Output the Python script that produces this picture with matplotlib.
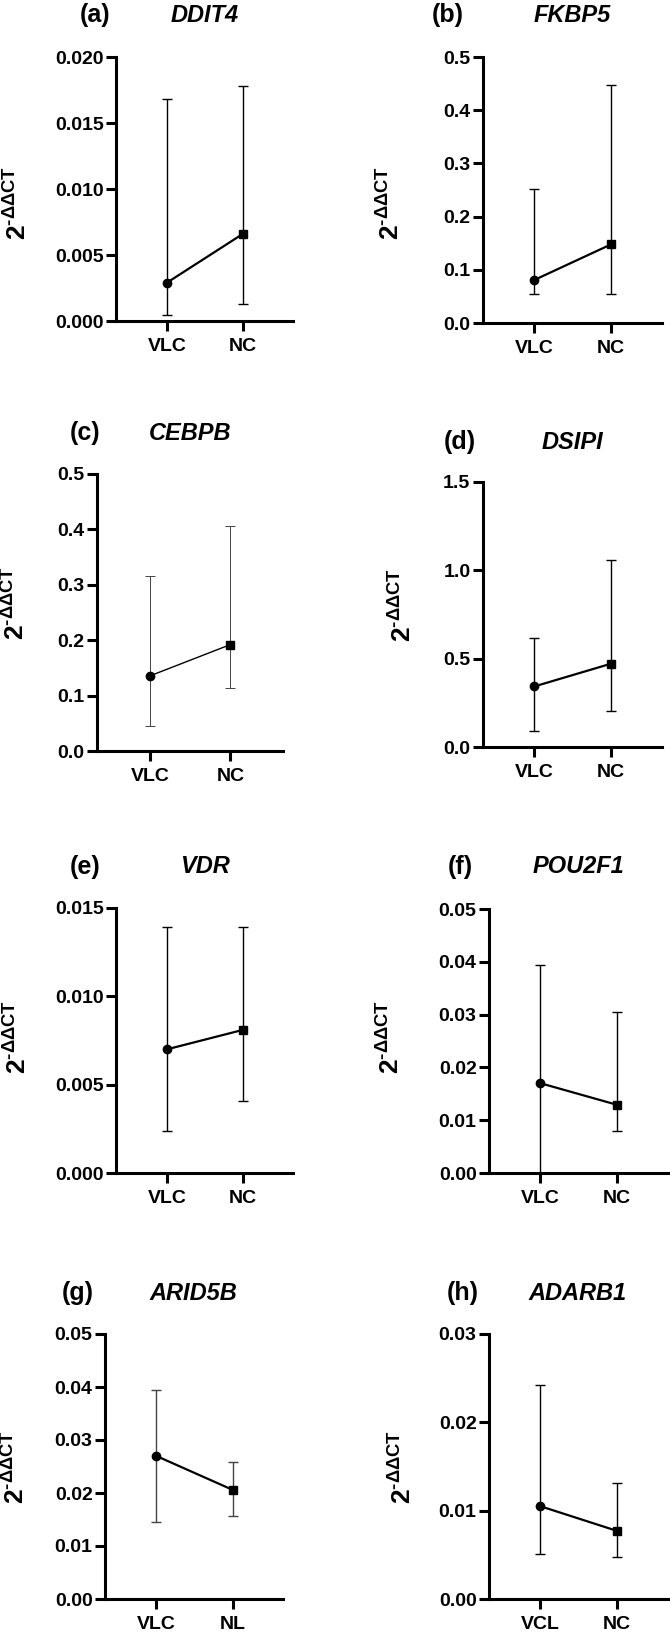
import numpy as np
import matplotlib
matplotlib.use("Agg")
import matplotlib.pyplot as plt
from matplotlib.ticker import FormatStrFormatter

plt.rcParams['font.family'] = ['Liberation Sans', 'DejaVu Sans']
plt.rcParams['font.weight'] = 'bold'
plt.rcParams['mathtext.fontset'] = 'custom'
plt.rcParams['mathtext.bf'] = 'Liberation Sans:bold'
plt.rcParams['mathtext.rm'] = 'Liberation Sans:bold'

# data
letters = ['(a)', '(b)', '(c)', '(d)', '(e)', '(f)', '(g)', '(h)']
genes = ['DDIT4', 'FKBP5', 'CEBPB', 'DSIPI', 'VDR', 'POU2F1', 'ARID5B', 'ADARB1']
groups = [['VLC', 'NC'], ['VLC', 'NC'], ['VLC', 'NC'], ['VLC', 'NC'],
          ['VLC', 'NC'], ['VLC', 'NC'], ['VLC', 'NL'], ['VCL', 'NC']]
means = [[0.0029, 0.0066], [0.081, 0.148], [0.136, 0.192], [0.343, 0.472],
         [0.0070, 0.0081], [0.0170, 0.0129], [0.0270, 0.0206], [0.0105, 0.0077]]
lows = [[0.00045, 0.0013], [0.055, 0.055], [0.045, 0.113], [0.089, 0.202],
        [0.0024, 0.0041], [0.0, 0.0080], [0.0146, 0.0156], [0.0051, 0.0048]]
highs = [[0.0168, 0.0178], [0.252, 0.448], [0.316, 0.406], [0.615, 1.058],
         [0.0139, 0.0139], [0.0394, 0.0304], [0.0395, 0.0258], [0.0242, 0.0131]]
yticks = [np.arange(0, 0.0201, 0.005), np.arange(0, 0.51, 0.1), np.arange(0, 0.51, 0.1),
          np.arange(0, 1.51, 0.5), np.arange(0, 0.0151, 0.005), np.arange(0, 0.051, 0.01),
          np.arange(0, 0.051, 0.01), np.arange(0, 0.031, 0.01)]
fmts = ['%.3f', '%.1f', '%.1f', '%.1f', '%.3f', '%.2f', '%.2f', '%.2f']

# axes boxes in pixels: left, top, right, bottom
boxes = [(116, 57, 293, 321), (483, 57, 662, 323),
         (97, 474, 283, 751), (483, 482, 662, 747),
         (116, 908, 293, 1173), (489, 909, 668, 1173),
         (105, 1334, 283, 1599), (489, 1334, 668, 1599)]
# title positions (letter x, gene x, y)
titles = [(95, 205, 15), (448, 572, 15), (85, 190, 433), (460, 572, 442),
          (85, 205, 867), (460, 578, 867), (78, 193, 1293), (463, 578, 1293)]
# y label centres (x, y)
ylabs = [(17, 203), (390, 203), (15, 603), (402, 605),
         (17, 1037), (390, 1037), (15, 1467), (402, 1467)]

W, H = 670, 1634
fig = plt.figure(figsize=(W / 100, H / 100), dpi=100)

for i in range(8):
    l, t, r, b = boxes[i]
    ax = fig.add_axes([l / W, 1 - b / H, (r - l) / W, (b - t) / H])
    x = np.arange(2)
    m = np.array(means[i])
    lo = np.array(lows[i])
    hi = np.array(highs[i])
    thin = (i == 2)
    elw = 0.7 if thin else 1.0
    ecol = '#444444' if thin or i == 6 else 'black'
    ax.errorbar(x, m, yerr=[m - lo, hi - m], fmt='none', ecolor=ecol,
                elinewidth=elw, capsize=3.3, capthick=elw, zorder=2)
    ax.plot(x, m, color='black', lw=1.0 if thin else 1.6, zorder=3)
    ax.plot(x[0], m[0], 'o', color='black', ms=6, zorder=4)
    ax.plot(x[1], m[1], 's', color='black', ms=5.5, zorder=4)

    ax.set_xlim(-0.67, 1.66)
    ax.set_ylim(0, yticks[i][-1])
    ax.set_yticks(yticks[i])
    ax.yaxis.set_major_formatter(FormatStrFormatter(fmts[i]))
    ax.set_xticks(x)
    ax.set_xticklabels(groups[i])
    for s in ['top', 'right']:
        ax.spines[s].set_visible(False)
    for s in ['left', 'bottom']:
        ax.spines[s].set_linewidth(2.2)
    ax.tick_params(axis='both', width=2.2, length=7, labelsize=14, pad=2)
    ax.tick_params(axis='x', pad=5)
    for lab in ax.get_xticklabels() + ax.get_yticklabels():
        lab.set_fontweight('bold')

    yx, yy = ylabs[i]
    fig.text(yx / W, 1 - yy / H, r'$\mathbf{2}^{\text{-}\mathbf{\Delta\Delta CT}}$',
             fontsize=19, rotation=90, ha='center', va='center')

    lx, gx, ty = titles[i]
    fig.text(lx / W, 1 - ty / H, letters[i], fontsize=18, fontweight='bold',
             ha='center', va='center')
    fig.text(gx / W, 1 - ty / H, genes[i], fontsize=17, fontweight='bold',
             fontstyle='italic', ha='center', va='center')

fig.savefig('out.png', dpi=100)
